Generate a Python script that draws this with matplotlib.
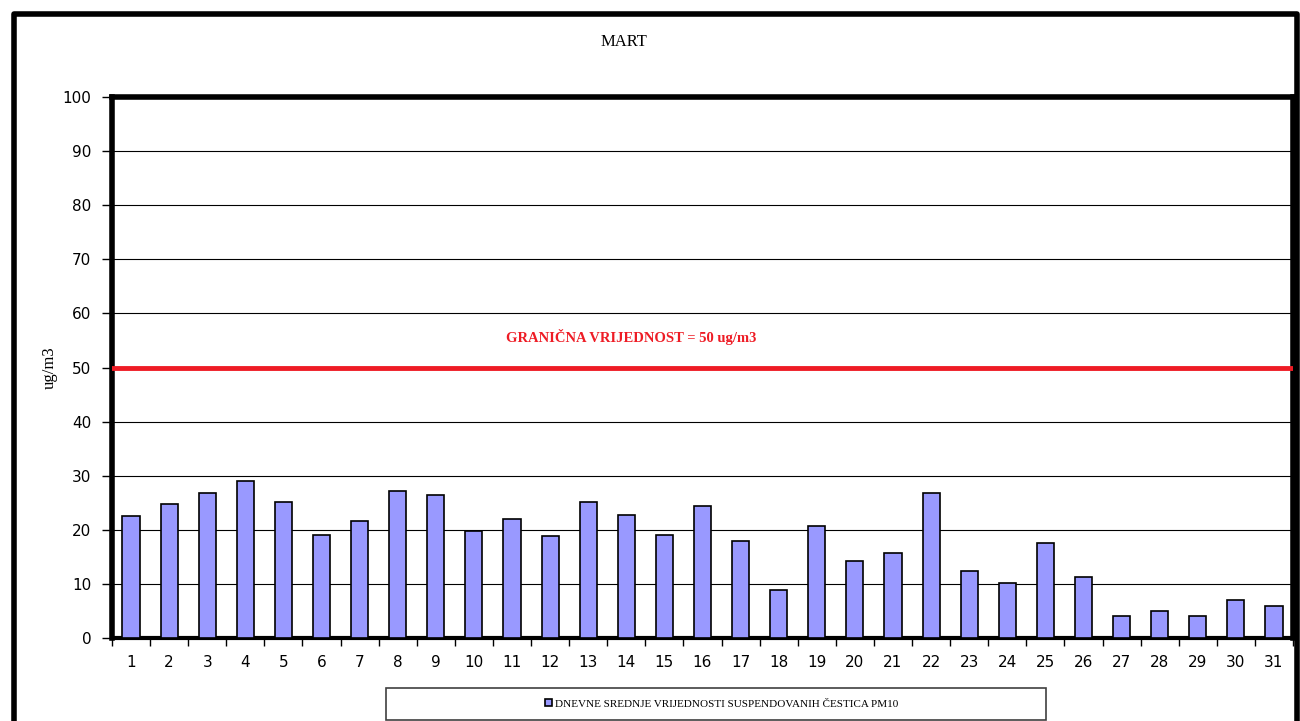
import matplotlib.pyplot as plt
from matplotlib.patches import Rectangle
from matplotlib.lines import Line2D

days = list(range(1, 32))
pm10 = [22.5, 24.8, 26.8, 29.0, 25.1, 19.0, 21.6, 27.2, 26.4, 19.8,
        22.0, 18.9, 25.1, 22.7, 19.0, 24.4, 17.9, 8.9, 20.7, 14.2,
        15.7, 26.8, 12.4, 10.2, 17.6, 11.3, 4.1, 5.0, 4.1, 7.0, 5.9]
limit = 50
title = 'MART'
series_name = 'DNEVNE SREDNJE VRIJEDNOSTI SUSPENDOVANIH ČESTICA PM10'

fig = plt.figure(figsize=(13, 7.21), dpi=100)
ax = fig.add_axes([112 / 1300, 1 - 638 / 721, (1293 - 112) / 1300, (638 - 97) / 721])

bars = ax.bar(days, pm10, width=0.45, color='#9999FF', edgecolor='black',
              linewidth=1.2, zorder=3, label=series_name)
ax.axhline(limit, color='#EE1C25', linewidth=3.5, zorder=4)
ax.text(0.334, 55.6, 'GRANIČNA VRIJEDNOST = 50 ug/m3', transform=ax.get_yaxis_transform(),
        color='#EE1C25', fontsize=10.5, fontweight='bold', family='Liberation Serif',
        ha='left', va='center')

ax.set_xlim(0.5, 31.5)
ax.set_ylim(0, 100)
ax.set_yticks(range(0, 101, 10))
ax.set_xticks(days)
ax.set_xticks([d + 0.5 for d in range(0, 32)], minor=True)
ax.tick_params(axis='x', which='major', length=0, pad=12, labelsize=11)
ax.tick_params(axis='x', which='minor', length=6, width=1, direction='out')
ax.tick_params(axis='y', length=7, width=1, direction='out', pad=8, labelsize=11)
ax.yaxis.grid(True, color='black', linewidth=0.8, zorder=0)
ax.set_axisbelow(True)
for side in ['left', 'top', 'right']:
    ax.spines[side].set_linewidth(4)
ax.spines['bottom'].set_linewidth(3)

ax.set_ylabel('ug/m3', family='Liberation Serif', fontsize=12, labelpad=3)
fig.text(624 / 1300, 1 - 42 / 721, title, family='Liberation Serif', fontsize=12,
         ha='center', va='center')

# outer chart border (left, top, right)
fig.add_artist(Line2D([14 / 1300, 14 / 1300, 1297 / 1300, 1297 / 1300],
                      [0, 1 - 14 / 721, 1 - 14 / 721, 0],
                      transform=fig.transFigure, color='black', linewidth=4))

# legend box
fig.add_artist(Rectangle((386 / 1300, 1 - 720 / 721), (1046 - 386) / 1300, 32 / 721,
                         transform=fig.transFigure, facecolor='white',
                         edgecolor='#404040', linewidth=1.2))
fig.legend(handles=[bars], loc='center', bbox_to_anchor=(722 / 1300, 1 - 704 / 721),
           frameon=False, prop={'family': 'Liberation Serif', 'size': 8},
           handlelength=0.6, handleheight=0.6, handletextpad=0.3)

fig.savefig('out.png', dpi=100)
